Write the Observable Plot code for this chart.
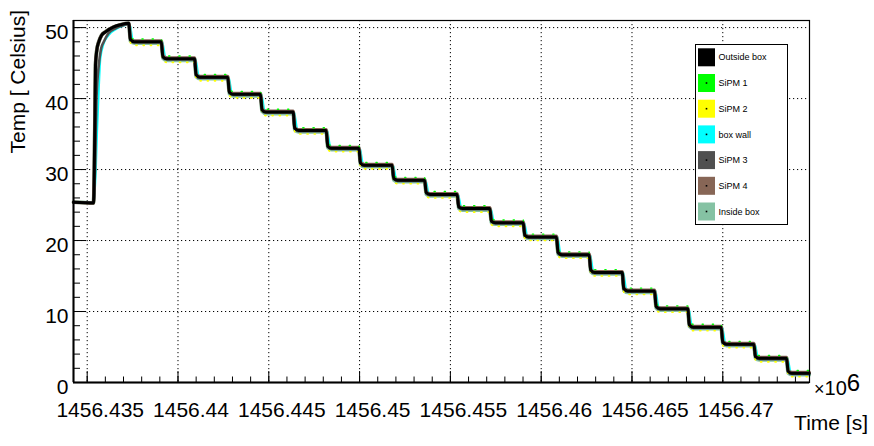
<!DOCTYPE html>
<html>
<head>
<meta charset="utf-8">
<script src="https://cdn.jsdelivr.net/npm/d3@7"></script>
<script src="https://cdn.jsdelivr.net/npm/@observablehq/plot@0.6"></script>
<style>
  html, body { margin: 0; padding: 0; background: #fff; }
  #chart { width: 874px; height: 446px; }
</style>
</head>
<body>
<div id="chart"></div>
<script>
// Temperature log of the cooling run: seven sensors, stepped down every ~30 minutes.
const seriesNames = ["Outside box", "SiPM 1", "SiPM 2", "box wall", "SiPM 3", "SiPM 4", "Inside box"];
const seriesColors = ["#000000", "#00ff00", "#ffff00", "#00ffff", "#505050", "#876656", "#85c2a3"];

// Time axis (s) and tick values
const timeDomain = [1456434246, 1456474775];
const timeEnd = 1456474760;
const xMajorTicks = [1456435000, 1456440000, 1456445000, 1456450000, 1456455000, 1456460000, 1456465000, 1456470000];
const xMinorTicks = d3.range(1456435000, 1456474001, 1000);
const yMajorTicks = [0, 10, 20, 30, 40, 50];
const yMinorTicks = [2, 4, 6, 8, 12, 14, 16, 18, 22, 24, 26, 28, 32, 34, 36, 38, 42, 44, 46, 48, 50];

// Warm-up: [time (s), temperature (°C)]
const riseFast = [
  [1456434250, 25.4], [1456435347, 25.3], [1456435391, 30.0], [1456435430, 38.0],
  [1456435457, 44.7], [1456435529, 46.8], [1456435639, 48.0], [1456435787, 48.9],
  [1456436008, 49.4], [1456436465, 50.1], [1456436834, 50.4], [1456437290, 50.6]
];
const riseMid = [
  [1456434250, 25.4], [1456435363, 25.4], [1456435430, 30.0], [1456435512, 40.0],
  [1456435639, 44.7], [1456435760, 47.0], [1456435914, 48.0], [1456436173, 49.2],
  [1456436558, 49.9], [1456436944, 50.3], [1456437290, 50.5]
];
const riseSlow = [
  [1456434250, 25.4], [1456435374, 25.4], [1456435485, 30.0], [1456435551, 35.3],
  [1456435650, 41.5], [1456435732, 45.6], [1456435898, 47.6], [1456436173, 48.9],
  [1456436613, 49.8], [1456437290, 50.4]
];

// Start of each cooling step (s)
const dropTimes = [
  1456437290, 1456439080, 1456440910, 1456442740, 1456444540, 1456446340, 1456448160,
  1456449960, 1456451790, 1456453580, 1456455370, 1456457170, 1456459010, 1456460840,
  1456462640, 1456464460, 1456466240, 1456468070, 1456469910, 1456471710, 1456473510
];

// Plateau temperature (°C) reached after each step, per sensor
const outsideBox = [48.0, 45.6, 43.0, 40.6, 38.1, 35.5, 33.0, 30.6, 28.5, 26.5, 24.5, 22.5, 20.5, 18.0, 15.5, 12.9, 10.4, 7.8, 5.4, 3.4, 1.3];
const sipm1      = [48.4, 46.0, 43.4, 41.0, 38.5, 35.9, 33.4, 31.0, 28.9, 26.9, 24.9, 22.9, 20.9, 18.4, 15.9, 13.3, 10.8, 8.2, 5.8, 3.8, 1.7];
const sipm2      = [47.5, 45.1, 42.5, 40.1, 37.6, 35.0, 32.5, 30.1, 28.0, 26.0, 24.0, 22.0, 20.0, 17.5, 15.0, 12.4, 9.9, 7.3, 4.9, 2.9, 0.8];
const boxWall    = [48.0, 45.6, 43.0, 40.6, 38.1, 35.5, 33.0, 30.6, 28.5, 26.5, 24.5, 22.5, 20.5, 18.0, 15.5, 12.9, 10.4, 7.8, 5.4, 3.4, 1.3];
const sipm3      = [47.9, 45.5, 42.9, 40.5, 38.0, 35.4, 32.9, 30.5, 28.4, 26.4, 24.4, 22.4, 20.4, 17.9, 15.4, 12.8, 10.3, 7.7, 5.3, 3.3, 1.2];
const sipm4      = [48.1, 45.7, 43.1, 40.7, 38.2, 35.6, 33.1, 30.7, 28.6, 26.6, 24.6, 22.6, 20.6, 18.1, 15.6, 13.0, 10.5, 7.9, 5.5, 3.5, 1.4];
const insideBox  = [47.8, 45.4, 42.8, 40.4, 37.9, 35.3, 32.8, 30.4, 28.3, 26.3, 24.3, 22.3, 20.3, 17.8, 15.3, 12.7, 10.2, 7.6, 5.2, 3.2, 1.1];

// Sensor response after a step (s): lag, time to most of the drop, time to settle
const responseTimes = {
  fast: [0, 90, 300],
  slow: [60, 170, 450]
};

function trace(name, rise, levels, response) {
  const [lag, fall, settle] = response;
  const pts = rise.map(([t, v]) => ({name, t, v}));
  let prev = rise[rise.length - 1][1];
  dropTimes.forEach((td0, i) => {
    const td = td0 + lag;
    if (td > pts[pts.length - 1].t) pts.push({name, t: td, v: prev});
    pts.push({name, t: td + fall, v: levels[i] + 0.12 * (prev - levels[i])});
    pts.push({name, t: td + settle, v: levels[i]});
    prev = levels[i];
  });
  pts.push({name, t: timeEnd, v: prev});
  return pts;
}

const data = {
  "Outside box": trace("Outside box", riseFast, outsideBox, responseTimes.fast),
  "SiPM 1": trace("SiPM 1", riseFast, sipm1, responseTimes.fast),
  "SiPM 2": trace("SiPM 2", riseFast, sipm2, responseTimes.fast),
  "box wall": trace("box wall", riseSlow, boxWall, responseTimes.slow),
  "SiPM 3": trace("SiPM 3", riseMid, sipm3, responseTimes.fast),
  "SiPM 4": trace("SiPM 4", riseFast, sipm4, responseTimes.fast),
  "Inside box": trace("Inside box", riseFast, insideBox, responseTimes.fast)
};
const color = Object.fromEntries(seriesNames.map((n, i) => [n, seriesColors[i]]));

const line = (name, opts) => Plot.line(data[name], {x: "t", y: "v", stroke: color[name], curve: "monotone-x", ...opts});

const frameW = 874 - 73 - 65, frameH = 446 - 20 - 64;
const grid = {stroke: "#000", strokeWidth: 1, strokeDasharray: "1.2,2.8"};

const chart = Plot.plot({
  width: 874, height: 446,
  marginLeft: 73, marginRight: 65, marginTop: 20, marginBottom: 64,
  x: {domain: timeDomain},
  y: {domain: [0, 51]},
  style: {fontFamily: "'Liberation Sans', Arial, Helvetica, sans-serif", fontSize: "21px", color: "#000", background: "#fff", overflow: "visible"},
  marks: [
    Plot.ruleX(xMajorTicks, grid),
    Plot.ruleY(yMajorTicks.filter(d => d > 0), grid),
    line("box wall", {strokeWidth: 1.8}),
    line("Inside box", {strokeWidth: 3.8}),
    line("SiPM 4", {strokeWidth: 3.6}),
    line("SiPM 3", {strokeWidth: 2.6}),
    line("SiPM 2", {strokeWidth: 1.6, strokeDasharray: "1.2,6"}),
    line("SiPM 1", {strokeWidth: 1.4, strokeDasharray: "1.2,9"}),
    line("Outside box", {strokeWidth: 3}),
    Plot.ruleX(xMajorTicks, {stroke: "#000", strokeWidth: 1, insetTop: frameH - 11}),
    Plot.ruleX(xMinorTicks, {stroke: "#000", strokeWidth: 1, insetTop: frameH - 5.5}),
    Plot.ruleY(yMajorTicks, {stroke: "#000", strokeWidth: 1, insetRight: frameW - 13}),
    Plot.ruleY(yMinorTicks, {stroke: "#000", strokeWidth: 1, insetRight: frameW - 7}),
    Plot.frame({stroke: "#000", strokeWidth: 1.2}),
    Plot.ruleY([0], {stroke: "#000", strokeWidth: 2}),
    Plot.ruleX([timeDomain[0]], {stroke: "#000", strokeWidth: 2}),
    Plot.axisX(xMajorTicks, {tickSize: 0, tickPadding: 20, dx: 13, tickFormat: d => String(+(d / 1e6).toFixed(3)), label: null}),
    Plot.axisY(yMajorTicks, {tickSize: 0, tickPadding: 5, dy: 5, label: null})
  ]
});

const svg = d3.select(chart);
const font = "'Liberation Sans', Arial, Helvetica, sans-serif";

// Axis titles and exponent
svg.append("text").attr("transform", "translate(25,10) rotate(-90)")
  .attr("text-anchor", "end").attr("font-family", font).attr("font-size", 21)
  .attr("fill", "#000").text("Temp [ Celsius]");
svg.append("text").attr("x", 868).attr("y", 430)
  .attr("text-anchor", "end").attr("font-family", font).attr("font-size", 21)
  .attr("fill", "#000").text("Time [s]");
const expo = svg.append("text").attr("x", 814).attr("y", 395).attr("text-anchor", "start")
  .attr("font-family", font).attr("fill", "#000");
expo.append("tspan").attr("font-size", 18).text("×");
expo.append("tspan").attr("font-size", 20).text("10");
expo.append("tspan").attr("font-size", 24).attr("dy", -4).text("6");

// Legend
const lg = svg.append("g").attr("font-family", font).attr("text-anchor", "start");
lg.append("rect").attr("x", 695.5).attr("y", 44.5).attr("width", 92).attr("height", 180)
  .attr("fill", "#fff").attr("stroke", "#000").attr("stroke-width", 1);
seriesNames.forEach((name, i) => {
  const y0 = 48.3 + 25.7 * i;
  lg.append("rect").attr("x", 698).attr("y", y0).attr("width", 17).attr("height", 18).attr("fill", seriesColors[i]);
  lg.append("rect").attr("x", 705.7).attr("y", y0 + 8.2).attr("width", 1.6).attr("height", 1.6).attr("fill", "#000");
  lg.append("text").attr("x", 718.5).attr("y", y0 + 9).attr("dy", "0.35em")
    .attr("font-size", 9).attr("fill", "#000").text(name);
});

document.getElementById("chart").appendChild(chart);
</script>
</body>
</html>
